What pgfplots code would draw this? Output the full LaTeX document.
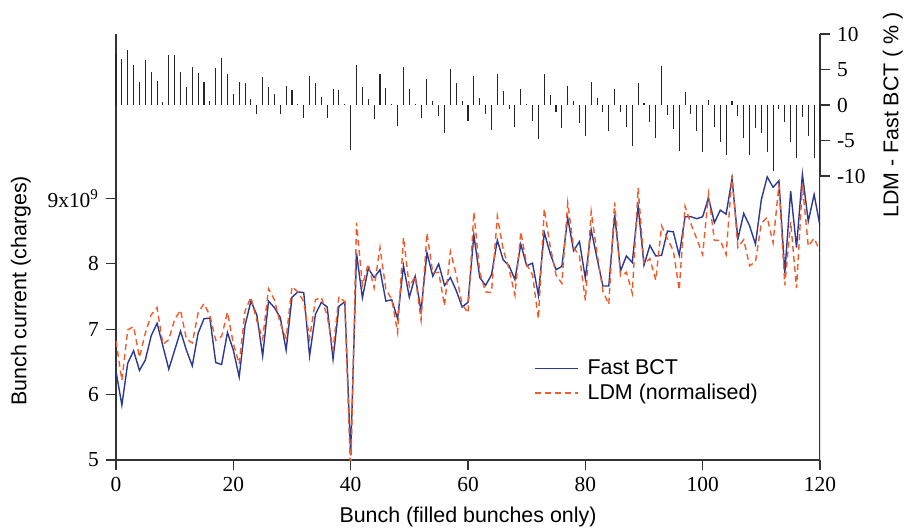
\documentclass[border=0pt]{standalone}
\usepackage{pgfplots}
\usepackage{pgfplotstable}
\pgfplotsset{compat=1.18}
\usepackage{fontspec}
\setmainfont{Liberation Serif}
\setsansfont{Liberation Sans}
\definecolor{bctblue}{HTML}{2B3990}
\definecolor{ldmred}{HTML}{F15A29}
\definecolor{axgray}{HTML}{333333}

\pgfplotstableread{
x bct ldm d
0 6.36 6.82 7.2
1 5.84 6.22 6.5
2 6.48 6.99 7.8
3 6.67 7.04 5.6
4 6.37 6.57 3.2
5 6.53 6.94 6.3
6 6.90 7.22 4.7
7 7.09 7.33 3.4
8 6.74 6.77 0.4
9 6.39 6.84 7.1
10 6.68 7.15 7.1
11 6.97 7.29 4.6
12 6.68 6.85 2.6
13 6.44 6.79 5.4
14 6.94 7.25 4.5
15 7.16 7.39 3.2
16 7.17 7.21 0.6
17 6.49 6.83 5.2
18 6.46 6.89 6.6
19 6.95 7.26 4.4
20 6.68 6.78 1.5
21 6.27 6.47 3.2
22 7.06 7.28 3.1
23 7.43 7.49 0.8
24 7.22 7.13 -1.3
25 6.59 6.85 3.9
26 7.43 7.62 2.6
27 7.33 7.45 1.6
28 7.18 7.09 -1.3
29 6.68 6.86 2.7
30 7.49 7.65 2.1
31 7.57 7.57 0.15
32 7.56 7.42 -1.9
33 6.59 6.86 4.1
34 7.23 7.45 3.1
35 7.41 7.49 1.1
36 7.34 7.20 -1.9
37 6.54 6.69 2.3
38 7.35 7.50 2.1
39 7.42 7.42 0.15
40 5.07 4.75 -6.3
41 8.16 8.63 5.7
42 7.48 7.67 2.6
43 7.93 8.00 0.9
44 7.79 7.63 -2.0
45 7.91 8.25 4.3
46 7.43 7.61 2.4
47 7.45 7.46 0.2
48 7.16 6.95 -3.0
49 7.97 8.40 5.4
50 7.49 7.65 2.2
51 7.81 7.81 0.15
52 7.28 7.14 -1.9
53 8.17 8.47 3.7
54 7.81 7.86 0.6
55 8.00 7.87 -1.6
56 7.67 7.36 -4.0
57 7.79 8.19 5.1
58 7.59 7.83 3.1
59 7.34 7.38 0.6
60 7.41 7.25 -2.2
61 8.44 8.79 4.1
62 7.79 7.87 1.0
63 7.67 7.57 -1.3
64 7.83 7.56 -3.5
65 8.36 8.73 4.4
66 8.06 8.22 2.0
67 7.97 7.92 -0.6
68 7.76 7.52 -3.1
69 8.30 8.49 2.3
70 7.97 7.99 0.2
71 8.01 7.83 -2.3
72 7.52 7.16 -4.8
73 8.48 8.84 4.3
74 8.16 8.27 1.4
75 7.91 7.83 -1.0
76 7.96 7.70 -3.3
77 8.70 8.93 2.7
78 8.20 8.25 0.6
79 8.34 8.12 -2.6
80 7.78 7.44 -4.4
81 8.52 8.80 3.3
82 8.08 8.16 1.0
83 7.66 7.58 -1.0
84 7.66 7.38 -3.7
85 8.75 8.94 2.2
86 7.89 7.81 -1.0
87 8.12 7.87 -3.1
88 8.02 7.55 -5.8
89 8.88 9.16 3.1
90 7.98 8.00 0.3
91 8.28 8.08 -2.4
92 8.12 7.75 -4.6
93 8.13 8.58 5.5
94 8.50 8.38 -1.4
95 8.49 8.20 -3.4
96 8.13 7.60 -6.5
97 8.72 8.88 1.8
98 8.72 8.61 -1.3
99 8.69 8.38 -3.6
100 8.72 8.14 -6.6
101 9.01 9.07 0.7
102 8.63 8.36 -3.1
103 8.82 8.36 -5.2
104 8.76 8.14 -7.1
105 9.30 9.36 0.6
106 8.38 8.25 -1.6
107 8.77 8.37 -4.6
108 8.58 7.97 -7.1
109 8.30 8.03 -3.3
110 8.98 8.62 -4.0
111 9.33 8.71 -6.6
112 9.17 8.32 -9.3
113 9.27 9.21 -0.6
114 7.86 7.67 -2.4
115 9.11 8.64 -5.2
116 8.25 7.63 -7.5
117 9.37 9.21 -1.7
118 8.65 8.27 -4.4
119 9.06 8.39 -7.4
120 8.58 8.19 -4.5
}\datatable

\begin{document}
\begin{tikzpicture}
\pgfplotsset{
  every axis/.append style={font=\fontsize{10.7}{12.8}\selectfont},
  /pgf/number format/assume math mode=true,
}
% main axis
\begin{axis}[
  name=main,
  scale only axis,
  width=352pt, height=213pt,
  xmin=0, xmax=120, ymin=5, ymax=11.514,
  axis x line*=bottom, axis y line*=left,
  axis line style={axgray, line width=0.6pt},
  tick style={axgray, line width=0.6pt},
  tick align=outside, major tick length=5pt,
  xtick={0,20,40,60,80,100,120},
  xticklabels={0,20,40,60,80,100,120},
  ytick={5,6,7,8,9},
  yticklabels={5,6,7,8,9x10\textsuperscript{9}},
  ticklabel style={font=\rmfamily\fontsize{10.7}{12.8}\selectfont},
  xlabel={Bunch (filled bunches only)},
  ylabel={Bunch current (charges)},
  xlabel style={font=\sffamily\fontsize{10.7}{12.8}\selectfont, at={(axis description cs:0.5,-0.134)}, anchor=center},
  ylabel style={font=\sffamily\fontsize{10.7}{12.8}\selectfont, at={(axis description cs:-0.135,0.397)}, anchor=center},
  legend style={draw=none, fill=none, font=\sffamily\fontsize{10.7}{12.8}\selectfont,
    at={(axis description cs:0.585,0.255)}, anchor=north west, row sep=-1pt,
    nodes={inner xsep=4.5pt}},
  legend cell align=left,
  legend image code/.code={\draw[#1] (0pt,0pt) -- (21.5pt,0pt);},
]
\addplot[bctblue, line width=0.7pt] table[x=x, y=bct] {\datatable};
\addlegendentry{Fast BCT}
\addplot[ldmred, line width=0.7pt, dash pattern=on 3pt off 2pt] table[x=x, y=ldm] {\datatable};
\addlegendentry{LDM (normalised)}
\draw[axgray, line width=0.6pt] (rel axis cs:1,0) -- (rel axis cs:1,1);
\end{axis}
% difference axis
\begin{axis}[
  at={(0pt,142pt)}, anchor=south west,
  scale only axis,
  width=352pt, height=71pt,
  xmin=0, xmax=120, ymin=-10, ymax=10,
  axis x line=none, axis y line*=right,
  axis line style={axgray, line width=0.6pt},
  tick style={axgray, line width=0.6pt},
  tick align=outside, major tick length=5pt,
  ytick={-10,-5,0,5,10},
  yticklabels={-10,-5,0,5,10},
  ticklabel style={font=\rmfamily\fontsize{10.7}{12.8}\selectfont},
  ylabel={LDM - Fast BCT ( \% )},
  ylabel style={font=\sffamily\fontsize{10.7}{12.8}\selectfont, at={(axis description cs:1.1035,0.43)}, anchor=center, rotate=0},
  clip=false,
]
\addplot[ycomb, black!85, line width=0.55pt, mark=none] table[x=x, y=d] {\datatable};
\end{axis}
\pgfresetboundingbox
\path[use as bounding box] (-58pt,-35pt) rectangle (394pt,230pt);
\end{tikzpicture}
\end{document}
